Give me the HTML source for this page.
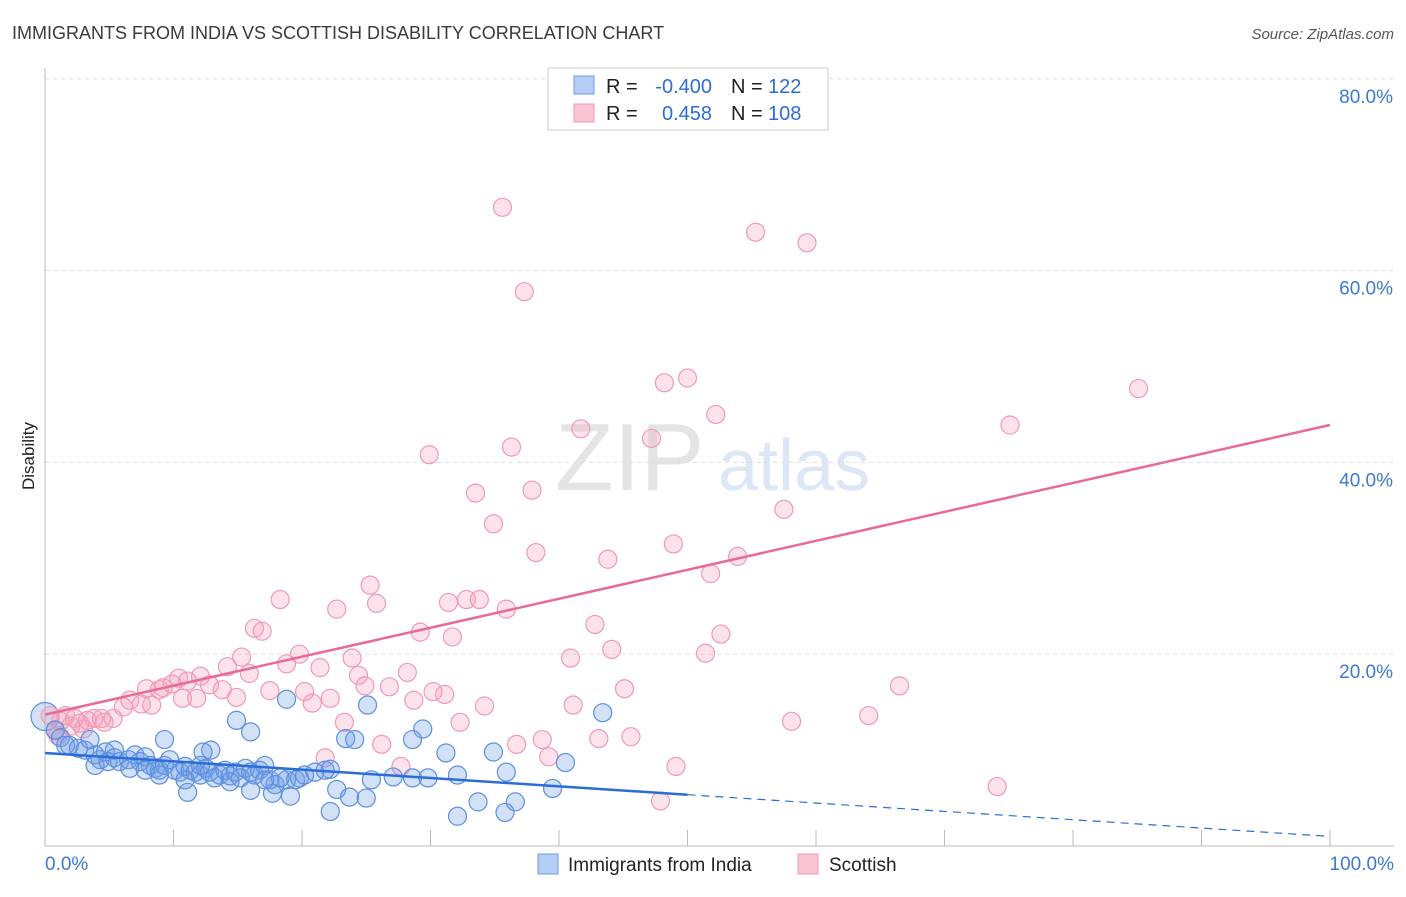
<!DOCTYPE html>
<html><head><meta charset="utf-8"><style>
body{margin:0;background:#fff;font-family:"Liberation Sans",sans-serif}
svg text{font-family:"Liberation Sans",sans-serif}
</style></head><body>
<svg id="c" width="1406" height="892" xmlns="http://www.w3.org/2000/svg">
<text x="12" y="39" font-size="18" fill="#3a3a3a">IMMIGRANTS FROM INDIA VS SCOTTISH DISABILITY CORRELATION CHART</text>
<text x="1394" y="39" font-size="15" fill="#555" font-style="italic" text-anchor="end">Source: ZipAtlas.com</text>
<text x="34" y="456" font-size="17" fill="#222" transform="rotate(-90 34 456)" text-anchor="middle">Disability</text>
<text x="555" y="490" font-size="96" fill="#e4e4e4" font-family="Liberation Serif">ZIP</text>
<text x="718" y="490" font-size="72" fill="#dce6f5">atlas</text>
<g id="grid"></g><g id="pts"></g><g id="lines"></g>
<g>
<rect x="548" y="68" width="280" height="62" fill="#fff" stroke="#ccc"/>
<rect x="574" y="76" width="20" height="18" fill="#b5cef5" stroke="#6a9be6"/>
<rect x="574" y="104" width="20" height="18" fill="#fac4d4" stroke="#f09ab5"/>
<text x="606" y="93" font-size="20" fill="#222">R =</text>
<text x="712" y="93" font-size="20" fill="#2a6dd8" text-anchor="end">-0.400</text>
<text x="731" y="93" font-size="20" fill="#222">N =</text>
<text x="768" y="93" font-size="20" fill="#2a6dd8">122</text>
<text x="606" y="120" font-size="20" fill="#222">R =</text>
<text x="712" y="120" font-size="20" fill="#2a6dd8" text-anchor="end">0.458</text>
<text x="731" y="120" font-size="20" fill="#222">N =</text>
<text x="768" y="120" font-size="20" fill="#2a6dd8">108</text>
</g>
<g>
<rect x="538" y="854" width="20" height="20" fill="#b5cef5" stroke="#6a9be6"/>
<text x="568" y="871" font-size="19" fill="#222">Immigrants from India</text>
<rect x="798" y="854" width="20" height="20" fill="#fac4d4" stroke="#f09ab5"/>
<text x="829" y="871" font-size="19" fill="#222">Scottish</text>
</g>
</svg>
<script>
const yTicks=[20,40,60,80];
const yTickLabels=["20.0%","40.0%","60.0%","80.0%"];
const xTickLabels=["0.0%","100.0%"];
const blueX=[18.8,25.1,14.9,43.4,16.0,29.4,23.4,24.1,28.6,9.3,31.2,34.9,12.9,12.3,40.5,35.9,22.2,32.1,18.8,19.8,28.6,29.8,27.1,25.4,22.7,39.5,23.7,25.0,17.7,19.1,36.6,33.7,32.1,35.8,22.2,11.1,0.8,1.2,1.6,1.9,2.6,3.1,3.9,4.3,4.7,5.4,5.8,6.5,7.0,7.4,7.8,8.2,8.6,8.9,9.3,9.7,10.1,10.5,10.9,11.3,11.7,12.1,12.5,12.8,13.2,13.6,14.0,14.4,14.8,15.2,15.6,16.0,16.3,16.7,17.1,17.5,17.9,18.3,19.5,20.2,21.0,21.8,3.9,4.9,6.6,8.9,12.1,14.4,16.0,17.1,10.9,7.8,5.4,3.5];
const blueY=[15.3,14.7,13.1,13.9,11.9,12.2,11.2,11.1,11.1,11.1,9.7,9.8,10.0,9.8,8.7,7.7,8.0,7.4,6.9,7.1,7.1,7.1,7.2,6.9,5.9,6.0,5.1,5.0,5.5,5.2,4.6,4.6,3.1,3.5,3.6,5.6,12.1,11.3,10.5,10.5,10.2,10.0,9.5,9.0,9.8,9.2,8.8,9.0,9.5,8.8,9.3,8.4,8.1,7.9,8.4,9.0,7.9,7.7,8.3,7.9,7.7,7.4,8.1,7.7,7.1,7.4,7.9,7.3,7.7,7.1,8.1,7.7,7.4,7.9,8.4,6.9,6.4,7.1,6.9,7.4,7.7,7.9,8.4,8.8,8.1,7.4,8.4,6.7,5.8,6.9,6.9,7.9,10.0,11.1];
const pinkX=[35.6,55.3,59.3,37.3,48.2,50.0,85.1,52.2,75.1,41.7,47.2,36.3,29.9,33.5,37.9,34.9,57.5,48.9,38.2,43.8,53.9,51.8,25.3,18.3,22.7,25.8,31.4,32.8,33.8,35.9,16.3,16.9,29.2,31.7,42.8,52.6,19.8,44.1,40.9,51.4,23.9,18.8,14.2,15.9,21.4,28.2,24.4,15.3,26.8,24.9,30.2,31.1,45.1,66.5,17.5,20.2,22.2,28.7,14.9,34.2,41.1,20.8,12.1,10.4,11.1,12.8,13.8,9.9,8.9,7.9,9.2,11.8,10.7,6.6,7.5,6.1,8.3,5.3,3.8,32.3,23.3,64.1,58.1,36.7,38.7,43.1,45.6,26.2,21.8,39.2,27.7,49.1,47.9,74.1,1.2,2.0,2.7,0.8,1.6,2.3,3.3,4.4,0.4,4.6,3.0,1.0];
const pinkY=[66.6,64.0,62.9,57.8,48.3,48.8,47.7,45.0,43.9,43.5,42.5,41.6,40.8,36.8,37.1,33.6,35.1,31.5,30.6,29.9,30.2,28.4,27.2,25.7,24.7,25.3,25.4,25.7,25.7,24.7,22.7,22.4,22.3,21.8,23.1,22.1,20.0,20.5,19.6,20.1,19.6,19.0,18.7,18.0,18.6,18.1,17.8,19.7,16.6,16.7,16.1,15.8,16.4,16.7,16.2,16.1,15.4,15.2,15.5,14.6,14.7,14.9,17.7,17.5,17.2,16.8,16.3,16.9,16.3,16.4,16.5,15.4,15.4,15.2,14.8,14.5,14.7,13.3,13.3,12.9,12.9,13.6,13.0,10.6,11.1,11.2,11.4,10.6,9.2,9.3,8.3,8.3,4.7,6.2,13.0,12.5,12.8,12.0,13.6,13.3,13.1,13.3,13.6,12.9,12.2,11.5];
const blueTrend=[9.7,1.0];
const pinkTrend=[13.7,43.9];
const blueSolidEnd=50;
const NS="http://www.w3.org/2000/svg";
const X=v=>45+v*12.85, Y=v=>846-v*9.59;
function mk(t,a,p){const e=document.createElementNS(NS,t);for(const k in a)e.setAttribute(k,a[k]);p.appendChild(e);return e;}
const grid=document.getElementById('grid');
yTicks.forEach((t,i)=>{
 const l=mk('line',{x1:45,x2:1394,y1:Y(t),y2:Y(t),stroke:'#ddd','stroke-dasharray':'4,4'},grid);
 
 
 const tx=mk('text',{x:1393,y:Y(t)+24,'font-size':19,fill:'#3b78d8','text-anchor':'end'},grid);tx.textContent=yTickLabels[i];
 
 
});
const ax=mk('line',{x1:45,x2:45,y1:68,y2:846,stroke:'#bbb'},grid);


const bx=mk('line',{x1:45,x2:1394,y1:846,y2:846,stroke:'#bbb'},grid);


for(let i=1;i<=10;i++){const t=mk('line',{x1:X(i*10),x2:X(i*10),y1:830,y2:846,stroke:'#bbb'},grid);
 
 }
[[0,'start',45],[1,'end',1394]].forEach(([i,a,x])=>{const t=mk('text',{x:x,y:870,'font-size':19,fill:'#3b78d8','text-anchor':a},grid);t.textContent=xTickLabels[i];
 
 });
const pts=document.getElementById('pts');
const bb=mk('circle',{cx:X(0),cy:Y(13.5),r:14,fill:'rgba(110,155,230,0.3)',stroke:'#5b8fe0','stroke-width':1.2},pts);


pinkX.forEach((v,i)=>{const c=mk('circle',{cx:X(v),cy:Y(pinkY[i]),r:9,fill:'rgba(245,160,190,0.3)',stroke:'#f09ab5','stroke-width':1.2},pts);
 
 });
blueX.forEach((v,i)=>{const c=mk('circle',{cx:X(v),cy:Y(blueY[i]),r:9,fill:'rgba(110,155,230,0.3)',stroke:'#5b8fe0','stroke-width':1.2},pts);
 
 });
const ln=document.getElementById('lines');
const by=x=>blueTrend[0]+(blueTrend[1]-blueTrend[0])*x/100;
const l1=mk('line',{x1:X(0),y1:Y(by(0)),x2:X(blueSolidEnd),y2:Y(by(blueSolidEnd)),stroke:'#2a6dd8','stroke-width':2.5},ln);


const l2=mk('line',{x1:X(blueSolidEnd),y1:Y(by(blueSolidEnd)),x2:X(100),y2:Y(by(100)),stroke:'#2a6dd8','stroke-width':1.2,'stroke-dasharray':'8,6'},ln);


const l3=mk('line',{x1:X(0),y1:Y(pinkTrend[0]),x2:X(100),y2:Y(pinkTrend[1]),stroke:'#e8699a','stroke-width':2.5},ln);


</script>
</body></html>
